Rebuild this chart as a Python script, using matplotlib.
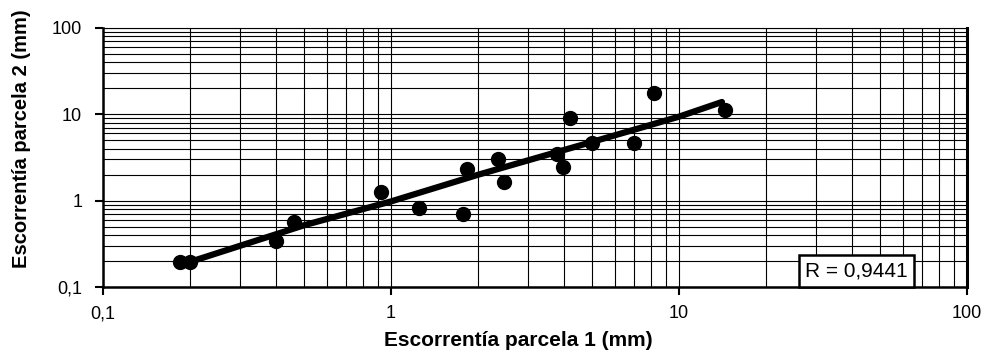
import matplotlib.pyplot as plt
from matplotlib.ticker import LogLocator, NullFormatter

plt.rcParams['font.family'] = ['Liberation Sans', 'DejaVu Sans']
# tamaño de las etiquetas de los ejes
plt.rcParams['xtick.labelsize'] = 13
plt.rcParams['ytick.labelsize'] = 13

# puntos medidos (parcela 1 vs parcela 2, mm)
x_values = [0.185, 0.20, 0.40, 0.46, 0.92, 1.25, 1.78, 1.84, 2.36, 2.46,
            3.76, 3.97, 4.2, 5.0, 7.0, 8.2, 14.5]
y_values = [0.195, 0.195, 0.34, 0.57, 1.27, 0.82, 0.70, 2.33, 3.0, 1.65,
            3.5, 2.46, 9.1, 4.7, 4.7, 17.8, 11.2]

# linea de ajuste
fit_x = [0.20, 0.5, 1.0, 2.0, 5.0, 10.0, 14.1]
fit_y = [0.195, 0.52, 0.98, 1.99, 4.8, 9.4, 13.9]

tick_values = [0.1, 1, 10, 100]
tick_labels = ['0,1', '1', '10', '100']
r_text = 'R = 0,9441'

fig = plt.figure(figsize=(9.86, 3.61), dpi=100)
ax = fig.add_axes([103/986, 1 - 287/361, (967 - 103)/986, (287 - 28)/361])

ax.set_xscale('log')
ax.set_yscale('log')
ax.set_xlim(0.1, 100)
ax.set_ylim(0.1, 100)

# rejilla mayor y menor
ax.xaxis.set_minor_locator(LogLocator(base=10, subs=range(2, 10)))
ax.yaxis.set_minor_locator(LogLocator(base=10, subs=range(2, 10)))
ax.xaxis.set_minor_formatter(NullFormatter())
ax.yaxis.set_minor_formatter(NullFormatter())
ax.grid(which='both', color='black', linewidth=0.8)
ax.set_axisbelow(True)

ax.set_xticks(tick_values)
ax.set_xticklabels(tick_labels)
ax.set_yticks(tick_values)
ax.set_yticklabels(tick_labels)
ax.tick_params(which='major', direction='out', length=6, width=1.5,
               color='black', labelsize=13)
ax.tick_params(axis='x', which='major', pad=7)
ax.tick_params(axis='y', which='major', pad=9)
ax.tick_params(which='minor', length=0)

for side, lw in [('left', 1.8), ('bottom', 1.8), ('right', 2.2), ('top', 0.8)]:
    ax.spines[side].set_linewidth(lw)
    ax.spines[side].set_color('black')

# linea de tendencia
ax.plot(fit_x, fit_y, color='black', linewidth=4.5, solid_capstyle='round', zorder=3)
# puntos
ax.plot(x_values, y_values, 'o', color='black', markersize=10, zorder=4)

ax.text(0.8125, 0.026, r_text, transform=ax.transAxes, fontsize=15,
        ha='left', va='bottom',
        bbox=dict(boxstyle='square,pad=0.3', facecolor='white',
                  edgecolor='black', linewidth=1.8), zorder=5)

# titulos de los ejes
fig.text(518/986, 1 - 340/361, 'Escorrentía parcela 1 (mm)', fontsize=15,
         fontweight='bold', ha='center', va='center')
fig.text(22/986, 1 - 139/361, 'Escorrentía parcela 2 (mm)', fontsize=14.5,
         fontweight='bold', ha='center', va='center', rotation=90)

plt.savefig('out.png', dpi=100)
